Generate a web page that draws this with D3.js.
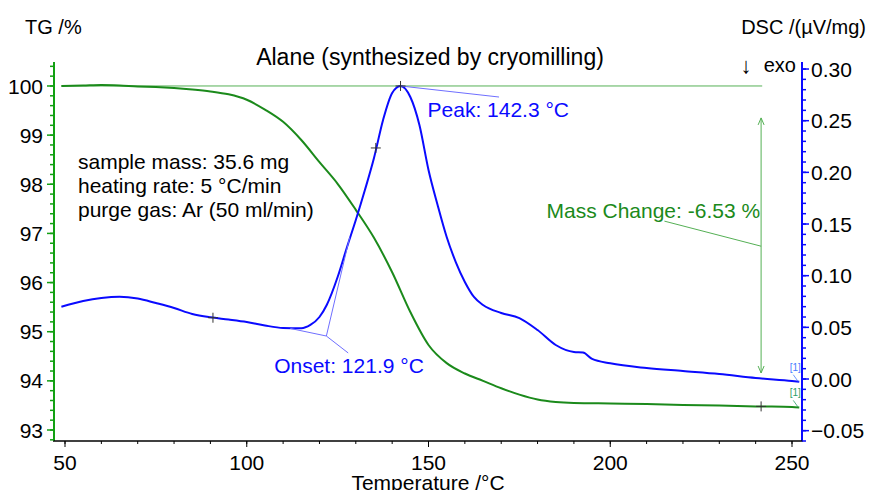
<!DOCTYPE html>
<html><head><meta charset="utf-8">
<script src="https://cdn.jsdelivr.net/npm/d3@7"></script>
<style>body{margin:0;background:#fff}svg{display:block;font-family:"Liberation Sans",Arial,sans-serif}</style>
</head><body><svg id="c" width="869" height="490"></svg>
<script>
// ---- data ----
const temps = [49,55,60,65,70,75,80,85,90,95,100,105,110,115,120,125,130,135,140,145,150,155,160,165,170,175,180,185,190,200,210,220,230,240,250,252];
const tgValues = [100.00,100.01,100.02,100.01,99.99,99.98,99.96,99.93,99.89,99.83,99.72,99.52,99.27,98.90,98.45,98.01,97.48,96.91,96.21,95.40,94.73,94.36,94.15,94.00,93.85,93.72,93.62,93.57,93.55,93.54,93.53,93.51,93.50,93.48,93.47,93.46];
const dscTemps = [49,55,60,65,70,75,80,85,90,95,100,105,110,115,117.5,120,122,125,127.5,130,132.5,135,137.5,140,142.3,145,147.5,150,152.5,155,157.5,160,162.5,165,170,175,180,185,190,192.5,195,200,210,220,230,240,250,252];
const dscValues = [0.0700,0.0755,0.0784,0.0796,0.0779,0.0735,0.0687,0.0629,0.0597,0.0576,0.0552,0.0518,0.0494,0.0491,0.0523,0.0600,0.0716,0.0987,0.1268,0.1539,0.1829,0.2139,0.2507,0.2768,0.2836,0.2729,0.2458,0.2023,0.1684,0.1374,0.1132,0.0939,0.0794,0.0716,0.0639,0.0590,0.0474,0.0329,0.0261,0.0256,0.0194,0.0152,0.0106,0.0077,0.0048,0.0010,-0.0019,-0.0026];
const xTicks = [50,100,150,200,250];
const tgTicks = [93,94,95,96,97,98,99,100];
const dscTicks = [-0.05,0.00,0.05,0.10,0.15,0.20,0.25,0.30];
const infoLines = ["sample mass: 35.6 mg","heating rate: 5 °C/min","purge gas: Ar (50 ml/min)"];
const onset = {T:121.9, v:0.0416, label:"Onset: 121.9 °C"};
const onsetBaseStart = {T:112.0, v:0.0489};
const onsetTangentEnd = {T:128.3, v:0.137};
const onsetLabelAnchor = {T:127.9, v:0.0252};
const peak = {T:142.3, v:0.2836, label:"Peak: 142.3 °C"};
const peakLabelAnchor = {T:169.4, v:0.2729};
const dscCross = [{T:90.7, v:0.0593},{T:135.5, v:0.2236}];
const massChange = {T:241.5, top:99.35, bottom:94.16, label:"Mass Change: -6.53 %", cross:93.48, lineFrom:{T:214.9,v:97.25}, lineTo:{T:241.5,v:96.74}};
const refLineTG = {T0:49, T1:241.8, v:100};

// ---- layout ----
const svg = d3.select("#c");
const L=54, R=802, T0=62, B=441;
const x = d3.scaleLinear().domain([46.97,252.75]).range([L,R]);
const yTG = d3.scaleLinear().domain([92.776,100.488]).range([B,T0]);
const yD = d3.scaleLinear().domain([-0.0600,0.3068]).range([B,T0]);
const GREEN="#1b8a1b", GAX="#12a012", BLUE="#0a0aff", LBLUE="#6f6fff", LGREEN="#55b055";
const FS=21;

// axes lines
svg.append("line").attr("x1",L).attr("x2",L).attr("y1",T0).attr("y2",B).attr("stroke",GAX).attr("stroke-width",2);
svg.append("line").attr("x1",R).attr("x2",R).attr("y1",T0).attr("y2",B).attr("stroke",BLUE).attr("stroke-width",2);
svg.append("line").attr("x1",L-1).attr("x2",R+1).attr("y1",B).attr("y2",B).attr("stroke","#000").attr("stroke-width",1.5);

// left axis ticks
svg.append("g").selectAll("line").data(d3.range(92.8,100.49,0.2)).join("line")
  .attr("x1",L-4).attr("x2",L).attr("y1",d=>yTG(d)).attr("y2",d=>yTG(d)).attr("stroke",GAX).attr("stroke-width",1.5);
svg.append("g").selectAll("line").data(tgTicks).join("line")
  .attr("x1",L-7).attr("x2",L).attr("y1",d=>yTG(d)).attr("y2",d=>yTG(d)).attr("stroke",GAX).attr("stroke-width",1.5);
svg.append("g").selectAll("text").data(tgTicks).join("text")
  .attr("x",L-11).attr("y",d=>yTG(d)).attr("dy","0.36em").attr("text-anchor","end").attr("font-size",FS).text(d=>d);

// right axis ticks
svg.append("g").selectAll("line").data(d3.range(-0.06,0.3061,0.01)).join("line")
  .attr("x1",R).attr("x2",R+4).attr("y1",d=>yD(d)).attr("y2",d=>yD(d)).attr("stroke",BLUE).attr("stroke-width",1.5);
svg.append("g").selectAll("line").data(dscTicks).join("line")
  .attr("x1",R).attr("x2",R+7).attr("y1",d=>yD(d)).attr("y2",d=>yD(d)).attr("stroke",BLUE).attr("stroke-width",1.5);
svg.append("g").selectAll("text").data(dscTicks).join("text")
  .attr("x",R+9).attr("y",d=>yD(d)).attr("dy","0.36em").attr("font-size",FS).text(d=>d3.format(".2f")(d));

// bottom ticks
svg.append("g").selectAll("line").data(d3.range(50,251,10)).join("line")
  .attr("x1",d=>x(d)).attr("x2",d=>x(d)).attr("y1",B).attr("y2",B+3).attr("stroke","#000");
svg.append("g").selectAll("line").data(xTicks).join("line")
  .attr("x1",d=>x(d)).attr("x2",d=>x(d)).attr("y1",B).attr("y2",B+6).attr("stroke","#000");
svg.append("g").selectAll("text").data(xTicks).join("text")
  .attr("x",d=>x(d)).attr("y",462).attr("dy","0.36em").attr("text-anchor","middle").attr("font-size",FS).text(d=>d);

// titles
svg.append("text").attr("x",428).attr("y",482).attr("dy","0.36em").attr("text-anchor","middle").attr("font-size",FS).text("Temperature /°C");
svg.append("text").attr("x",25).attr("y",27).attr("dy","0.36em").attr("font-size",20).text("TG /%");
svg.append("text").attr("x",866).attr("y",27).attr("dy","0.36em").attr("text-anchor","end").attr("font-size",20).text("DSC /(µV/mg)");
svg.append("text").attr("x",746).attr("y",65).attr("dy","0.36em").attr("text-anchor","middle").attr("font-size",22).text("↓");
svg.append("text").attr("x",796).attr("y",65).attr("dy","0.36em").attr("text-anchor","end").attr("font-size",20).text("exo");
svg.append("text").attr("x",430).attr("y",57).attr("dy","0.36em").attr("text-anchor","middle").attr("font-size",23).text("Alane (synthesized by cryomilling)");

// info text
svg.append("g").selectAll("text").data(infoLines).join("text")
  .attr("x",78).attr("y",(d,i)=>161+i*24).attr("dy","0.36em").attr("font-size",FS).text(d=>d);

// reference line at 100 %
svg.append("line").attr("x1",x(refLineTG.T0)).attr("x2",x(refLineTG.T1)).attr("y1",yTG(refLineTG.v)).attr("y2",yTG(refLineTG.v)).attr("stroke",LGREEN).attr("stroke-width",1);

// curves
const tgLine = d3.line().x(d=>x(d[0])).y(d=>yTG(d[1])).curve(d3.curveMonotoneX);
svg.append("path").attr("d",tgLine(d3.zip(temps,tgValues))).attr("fill","none").attr("stroke",GREEN).attr("stroke-width",2);
const dLine = d3.line().x(d=>x(d[0])).y(d=>yD(d[1])).curve(d3.curveMonotoneX);
svg.append("path").attr("d",dLine(d3.zip(dscTemps,dscValues))).attr("fill","none").attr("stroke",BLUE).attr("stroke-width",2);

// onset construction
function dl(a,b,col,w){svg.append("line").attr("x1",x(a.T)).attr("y1",yD(a.v)).attr("x2",x(b.T)).attr("y2",yD(b.v)).attr("stroke",col).attr("stroke-width",w||1);}
dl(onsetBaseStart,onset,LBLUE);
dl(onset,onsetTangentEnd,LBLUE);
dl(onset,onsetLabelAnchor,LBLUE);
svg.append("text").attr("x",x(onsetLabelAnchor.T)-74).attr("y",yD(onsetLabelAnchor.v)+12).attr("dy","0.36em").attr("font-size",FS).attr("fill",BLUE).text(onset.label);
dl(peak,peakLabelAnchor,LBLUE);
svg.append("text").attr("x",x(peak.T)+27).attr("y",yD(peak.v)+23).attr("dy","0.36em").attr("font-size",FS).attr("fill",BLUE).text(peak.label);

// crosses
function cross(px,py){svg.append("path").attr("d",`M${px-5},${py}H${px+5}M${px},${py-5}V${py+5}`).attr("stroke","#333").attr("stroke-width",1);}
dscCross.concat([peak]).forEach(p=>cross(x(p.T),yD(p.v)));
cross(x(massChange.T),yTG(massChange.cross));

// mass change arrow
const mx=x(massChange.T), my1=yTG(massChange.top), my2=yTG(massChange.bottom);
svg.append("line").attr("x1",mx).attr("x2",mx).attr("y1",my1).attr("y2",my2).attr("stroke",LGREEN);
svg.append("path").attr("d",`M${mx-3},${my1+7}L${mx},${my1}L${mx+3},${my1+7}`).attr("fill","none").attr("stroke",LGREEN);
svg.append("path").attr("d",`M${mx-3},${my2-7}L${mx},${my2}L${mx+3},${my2-7}`).attr("fill","none").attr("stroke",LGREEN);
svg.append("line").attr("x1",x(massChange.lineFrom.T)).attr("y1",yTG(massChange.lineFrom.v)).attr("x2",x(massChange.lineTo.T)).attr("y2",yTG(massChange.lineTo.v)).attr("stroke",LGREEN);
svg.append("text").attr("x",mx-1).attr("y",210).attr("dy","0.36em").attr("text-anchor","end").attr("font-size",FS).attr("fill",GREEN).text(massChange.label);

// [1] markers
const endD = {T:dscTemps[dscTemps.length-1], v:dscValues[dscValues.length-1]};
const endG = {T:temps[temps.length-1], v:tgValues[tgValues.length-1]};
svg.append("text").attr("x",x(endD.T)-4).attr("y",yD(endD.v)-11).attr("text-anchor","middle").attr("font-size",10).attr("fill","#4a7dff").text("[1]");
svg.append("line").attr("x1",x(endD.T)-6).attr("y1",yD(endD.v)-7).attr("x2",x(endD.T)-1).attr("y2",yD(endD.v)).attr("stroke","#4a7dff").attr("stroke-width",0.8);
svg.append("text").attr("x",x(endG.T)-4).attr("y",yTG(endG.v)-11).attr("text-anchor","middle").attr("font-size",10).attr("fill","#2ea06a").text("[1]");
svg.append("line").attr("x1",x(endG.T)-6).attr("y1",yTG(endG.v)-7).attr("x2",x(endG.T)-1).attr("y2",yTG(endG.v)).attr("stroke","#2ea06a").attr("stroke-width",0.8);
</script></body></html>
